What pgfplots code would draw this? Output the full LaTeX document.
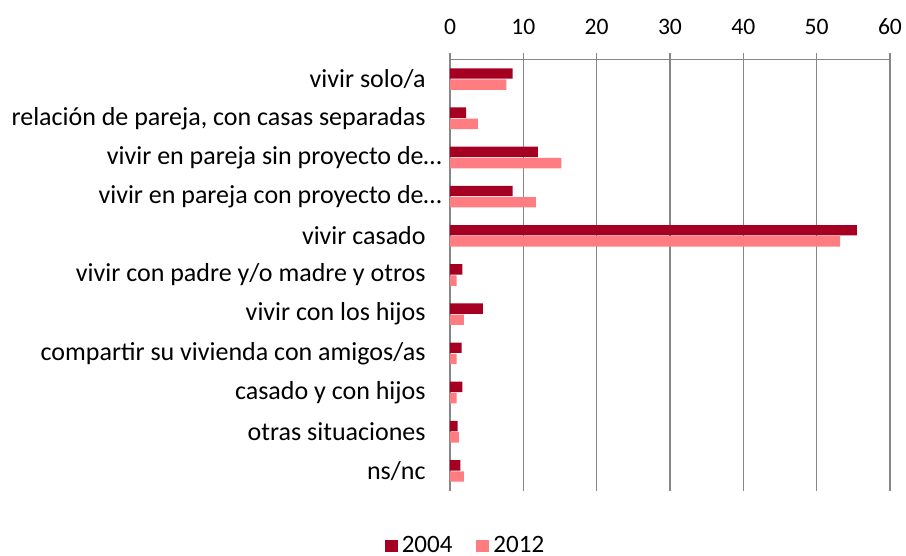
\documentclass[border=0pt]{standalone}
\usepackage{fontspec}
\setmainfont{Carlito}
\usepackage{pgfplots}
\pgfplotsset{compat=1.18}
\definecolor{c04}{HTML}{A50021}
\definecolor{c12}{HTML}{FF7C80}
\definecolor{axgray}{HTML}{878787}
\begin{document}
\fontsize{11.8pt}{14pt}\selectfont
\begin{tikzpicture}
\begin{axis}[
  at={(0,0)}, anchor=south west,
  scale only axis, width=220pt, height=215.5pt,
  xbar, bar width=5.2pt,
  xmin=0, xmax=60, xtick={0,10,...,60},
  ymin=-0.5, ymax=10.5, y dir=reverse,
  axis x line*=top, axis y line*=left,
  axis line style={axgray, line width=0.6pt},
  xmajorgrids, grid style={axgray, line width=0.6pt},
  tick align=outside,
  xtick style={axgray, line width=0.6pt},
  major tick length=3pt,
  ytick={0,...,10},
  ytick style={draw=none},
  minor ytick={-0.5,0.5,...,10.5},
  minor tick length=3pt,
  minor y tick style={axgray, line width=0.6pt},
  yticklabels={vivir solo/a, {relación de pareja, con casas separadas}, vivir en pareja sin proyecto de…\hspace*{-8pt}, vivir en pareja con proyecto de…\hspace*{-8pt}, vivir casado, vivir con padre y/o madre y otros, vivir con los hijos, compartir su vivienda con amigos/as, casado y con hijos, otras situaciones, ns/nc},
  y tick label style={anchor=east, xshift=-9pt, inner sep=0pt, font=\fontsize{13pt}{15pt}\selectfont},
  x tick label style={yshift=5.5pt},
  /pgf/number format/assume math mode=true,
  legend style={at={(0.0375,-0.1288)}, anchor=center, draw=none, legend columns=2,
    font=\fontsize{12.5pt}{15pt}\selectfont,
    /tikz/every even column/.append style={column sep=10pt}},
  legend image code/.code={\fill[#1] (0pt,-3.2pt) rectangle (6.5pt,3.2pt);},
]
\addplot[fill=c04, draw=none, bar shift=2.8pt] coordinates {
(8.55,0) (2.2,1) (12.0,2) (8.55,3) (55.5,4) (1.7,5) (4.5,6) (1.6,7) (1.7,8) (1.05,9) (1.4,10)};
\addplot[fill=c12, draw=none, bar shift=-2.8pt] coordinates {
(7.7,0) (3.8,1) (15.2,2) (11.7,3) (53.2,4) (0.9,5) (1.9,6) (0.9,7) (0.9,8) (1.2,9) (1.9,10)};
\legend{2004, 2012}
\end{axis}
\pgfresetboundingbox
\path[use as bounding box] (-225pt,-32.75pt) rectangle (228pt,245.25pt);
\end{tikzpicture}
\end{document}
